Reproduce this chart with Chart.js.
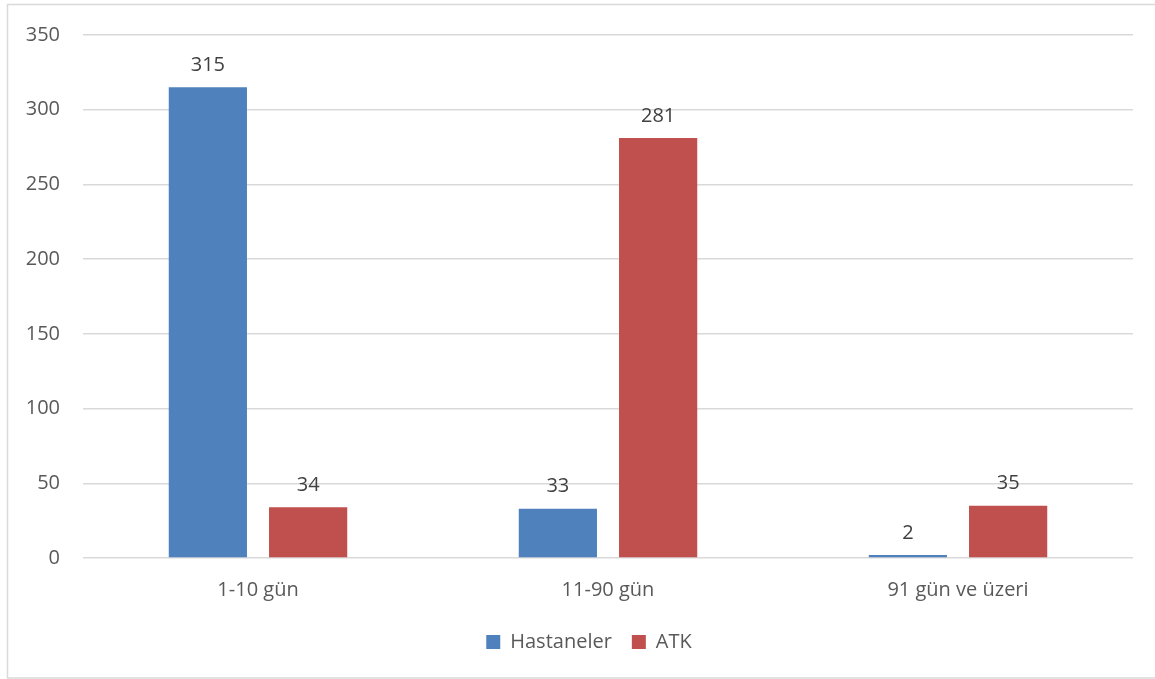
<!DOCTYPE html>
<html>
<head>
<meta charset="utf-8">
<script src="https://cdn.jsdelivr.net/npm/chart.js@4"></script>
<style>
    html, body { margin: 0; padding: 0; background: #fff; }
    #wrap { position: relative; width: 1155px; height: 679px; }
</style>
</head>
<body>
<div id="wrap"><canvas id="chart"></canvas></div>
<script>
    var categories = ['1-10 gün', '11-90 gün', '91 gün ve üzeri']
    var hastaneler = [315, 33, 2]
    var atk = [34, 281, 35]
    var yTicks = [0, 50, 100, 150, 200, 250, 300, 350]

    var fontFamily = '"Open Sans", "Liberation Sans", sans-serif'

    // outer frame, like the Excel chart border
    var framePlugin = {
        id: 'frame',
        beforeDraw: function(chart) {
            var c = chart.ctx
            c.save()
            c.fillStyle = '#fff'
            c.fillRect(0, 0, chart.width, chart.height)
            c.strokeStyle = '#d9d9d9'
            c.lineWidth = 1.5
            c.strokeRect(7.5, 4.5, 1160, 673.5)
            c.restore()
        }
    }

    // value labels above the bars
    var valueLabels = {
        id: 'valueLabels',
        afterDatasetsDraw: function(chart) {
            var c = chart.ctx
            c.save()
            c.font = '20px ' + fontFamily
            c.fillStyle = '#404040'
            c.textAlign = 'center'
            c.textBaseline = 'bottom'
            chart.data.datasets.forEach(function(ds, i) {
                chart.getDatasetMeta(i).data.forEach(function(bar, j) {
                    c.fillText(ds.data[j], bar.x, bar.y - 12)
                })
            })
            c.restore()
        }
    }

    var ctx = document.getElementById('chart').getContext('2d')
    var chart = new Chart(ctx, {
        type: 'bar',
        data: {
            labels: categories,
            datasets: [{
                    label: 'Hastaneler',
                    data: hastaneler,
                    backgroundColor: '#4f81bd',
                    categoryPercentage: 0.573,
                    barPercentage: 0.78
                },
                {
                    label: 'ATK',
                    data: atk,
                    backgroundColor: '#c0504d',
                    categoryPercentage: 0.573,
                    barPercentage: 0.78
                }
            ]
        },
        options: {
            responsive: true,
            maintainAspectRatio: false,
            animation: false,
            layout: {
                padding: { top: 33, left: 23, right: 0, bottom: 17 }
            },
            plugins: {
                tooltip: { enabled: false },
                legend: {
                    position: 'bottom',
                    labels: {
                        boxWidth: 14,
                        boxHeight: 14,
                        padding: 20,
                        color: '#595959',
                        font: { family: fontFamily, size: 20 }
                    }
                }
            },
            scales: {
                x: {
                    grid: { display: false },
                    border: { display: false },
                    ticks: {
                        color: '#595959',
                        padding: 12,
                        font: { family: fontFamily, size: 20 }
                    },
                    afterFit: function(scale) { scale.height = 54 }
                },
                y: {
                    min: 0,
                    max: 350,
                    border: { display: false },
                    grid: { color: '#d9d9d9', lineWidth: 1.5, drawTicks: false },
                    afterBuildTicks: function(scale) {
                        scale.ticks = yTicks.map(function(v) { return { value: v } })
                    },
                    ticks: {
                        color: '#595959',
                        padding: 23,
                        font: { family: fontFamily, size: 20 }
                    },
                    afterFit: function(scale) { scale.width = 60 }
                },
                // empty right-hand spacer so the legend centres like the original
                spacer: {
                    position: 'right',
                    grid: { display: false },
                    border: { display: false },
                    ticks: { display: false },
                    afterFit: function(scale) { scale.width = 22 }
                }
            }
        },
        plugins: [framePlugin, valueLabels]
    })
</script>
</body>
</html>
